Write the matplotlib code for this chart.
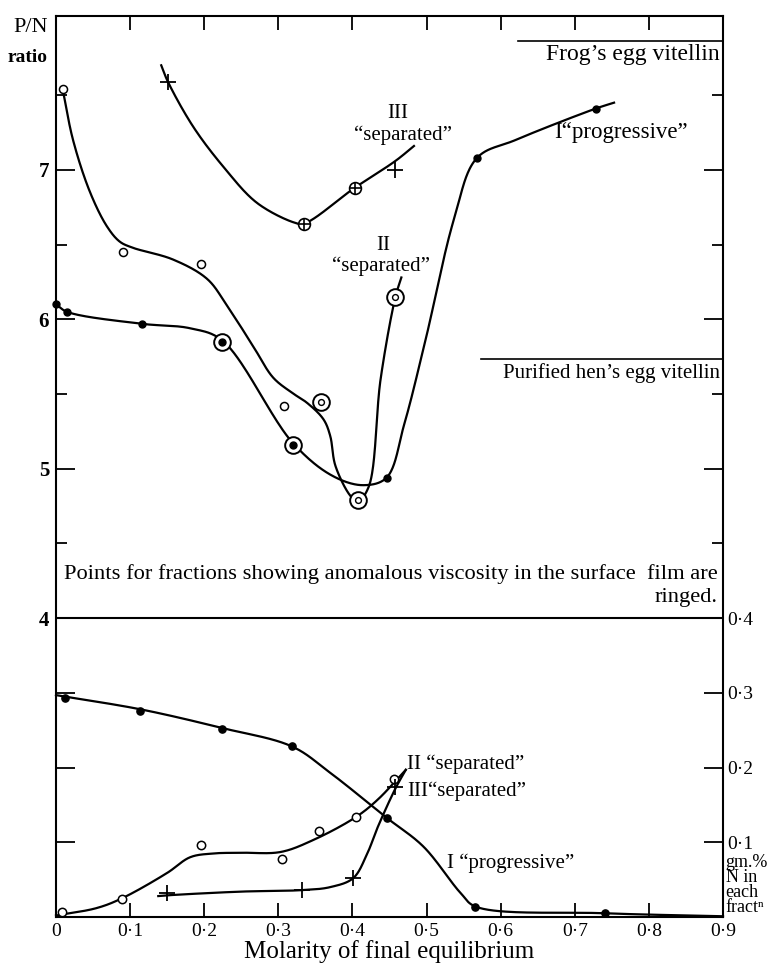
import numpy as np
import matplotlib
matplotlib.use("Agg")
import matplotlib.pyplot as plt
import matplotlib.transforms as mtransforms

plt.rcParams['font.family'] = ['Liberation Serif', 'DejaVu Serif']

# ---------------- data: upper panel (P/N ratio) ----------------
I_x = [0.0, 0.015, 0.116, 0.224, 0.320, 0.446, 0.568, 0.728]
I_y = [6.10, 6.05, 5.97, 5.85, 5.16, 4.94, 7.08, 7.41]
I_ringed = [False, False, False, True, True, False, False, False]
I_curve_x = [0.0, 0.015, 0.116, 0.181, 0.224, 0.320, 0.374, 0.415, 0.446, 0.47, 0.499, 0.537, 0.568, 0.62, 0.728, 0.753]
I_curve_y = [6.10, 6.05, 5.97, 5.94, 5.86, 5.17, 4.95, 4.89, 4.94, 5.30, 5.87, 6.67, 7.08, 7.20, 7.41, 7.45]

II_x = [0.009, 0.091, 0.196, 0.307, 0.358, 0.407, 0.458]
II_y = [7.54, 6.45, 6.37, 5.42, 5.45, 4.79, 6.15]
II_ringed = [False, False, False, False, True, True, True]
II_curve_x = [0.009, 0.023, 0.046, 0.069, 0.086, 0.103, 0.158, 0.204, 0.231, 0.266, 0.293, 0.318, 0.339,
              0.361, 0.370, 0.377, 0.397, 0.407, 0.422, 0.438, 0.458, 0.466]
II_curve_y = [7.54, 7.20, 6.85, 6.62, 6.52, 6.48, 6.40, 6.27, 6.09, 5.82, 5.61, 5.51, 5.44,
              5.33, 5.22, 5.02, 4.82, 4.78, 4.88, 5.60, 6.15, 6.28]

III_x = [0.151, 0.334, 0.403, 0.458]
III_y = [7.59, 6.64, 6.88, 7.00]
III_circled = [False, True, True, False]
III_curve_x = [0.142, 0.151, 0.185, 0.226, 0.271, 0.320, 0.334, 0.403, 0.458, 0.483]
III_curve_y = [7.70, 7.59, 7.29, 7.02, 6.78, 6.65, 6.64, 6.88, 7.06, 7.16]

# ---------------- data: lower panel (gm.% N in each fraction) ----------------
Ilow_x = [0.012, 0.114, 0.224, 0.319, 0.446, 0.566, 0.741]
Ilow_r = [0.293, 0.276, 0.251, 0.229, 0.133, 0.013, 0.005]
Ilow_curve_x = [0.0, 0.012, 0.114, 0.224, 0.319, 0.370, 0.446, 0.496, 0.546, 0.566, 0.741, 0.9]
Ilow_curve_r = [0.297, 0.295, 0.278, 0.253, 0.228, 0.193, 0.133, 0.094, 0.032, 0.014, 0.005, 0.001]

IIlow_x = [0.008, 0.089, 0.195, 0.305, 0.355, 0.405, 0.456]
IIlow_r = [0.007, 0.024, 0.097, 0.078, 0.115, 0.134, 0.185]
IIlow_curve_x = [0.0, 0.055, 0.089, 0.150, 0.181, 0.212, 0.250, 0.303, 0.347, 0.405, 0.434, 0.472]
IIlow_curve_r = [0.002, 0.012, 0.025, 0.059, 0.080, 0.085, 0.086, 0.087, 0.103, 0.134, 0.157, 0.197]

IIIlow_x = [0.150, 0.332, 0.401, 0.458]
IIIlow_r = [0.032, 0.036, 0.052, 0.174]
IIIlow_curve_x = [0.138, 0.150, 0.250, 0.332, 0.370, 0.401, 0.420, 0.434, 0.458, 0.472]
IIIlow_curve_r = [0.028, 0.029, 0.034, 0.036, 0.040, 0.052, 0.085, 0.120, 0.172, 0.197]

x_ticks = [0, 0.1, 0.2, 0.3, 0.4, 0.5, 0.6, 0.7, 0.8, 0.9]
x_ticklabels = ['0', '0\u00b71', '0\u00b72', '0\u00b73', '0\u00b74', '0\u00b75', '0\u00b76', '0\u00b77', '0\u00b78', '0\u00b79']
left_ticks = [4, 5, 6, 7]
right_ticks = [0.1, 0.2, 0.3, 0.4]
right_ticklabels = ['0\u00b71', '0\u00b72', '0\u00b73', '0\u00b74']


def smooth(xs, ys, sx, sy, n=40):
    """centripetal Catmull-Rom through the hand-drawn curve knots"""
    P = np.column_stack([np.asarray(xs, float) * sx, np.asarray(ys, float) * sy])
    P = np.vstack([2 * P[0] - P[1], P, 2 * P[-1] - P[-2]])
    out = []
    for i in range(1, len(P) - 2):
        p0, p1, p2, p3 = P[i - 1], P[i], P[i + 1], P[i + 2]
        t0 = 0.0
        t1 = t0 + max(np.linalg.norm(p1 - p0), 1e-9) ** 0.5
        t2 = t1 + max(np.linalg.norm(p2 - p1), 1e-9) ** 0.5
        t3 = t2 + max(np.linalg.norm(p3 - p2), 1e-9) ** 0.5
        t = np.linspace(t1, t2, n)[:, None]
        A1 = (t1 - t) / (t1 - t0) * p0 + (t - t0) / (t1 - t0) * p1
        A2 = (t2 - t) / (t2 - t1) * p1 + (t - t1) / (t2 - t1) * p2
        A3 = (t3 - t) / (t3 - t2) * p2 + (t - t2) / (t3 - t2) * p3
        B1 = (t2 - t) / (t2 - t0) * A1 + (t - t0) / (t2 - t0) * A2
        B2 = (t3 - t) / (t3 - t1) * A2 + (t - t1) / (t3 - t1) * A3
        C = (t2 - t) / (t2 - t1) * B1 + (t - t1) / (t2 - t1) * B2
        out.append(C)
    C = np.vstack(out)
    return C[:, 0] / sx, C[:, 1] / sy


fig = plt.figure(figsize=(7.73, 9.67), dpi=100)
ax = fig.add_axes([56 / 773, 1 - 917 / 967, (723 - 56) / 773, (917 - 16) / 967])
ax2 = ax.twinx()

YLO, YHI = 2.0, 8.03
ax.set_xlim(0, 0.9)
ax.set_ylim(YLO, YHI)
ax2.set_ylim((YLO - 2.0) / 5.0, (YHI - 2.0) / 5.0)

lw = 1.6
k = 'black'
SX, SY, SR = 740, 150, 745

# ---- upper curves ----
for cx, cy in [(I_curve_x, I_curve_y), (II_curve_x, II_curve_y), (III_curve_x, III_curve_y)]:
    xs, ys = smooth(cx, cy, SX, SY)
    ax.plot(xs, ys, color=k, lw=lw, clip_on=False, zorder=2)

# ---- lower curves ----
for cx, cr in [(Ilow_curve_x, Ilow_curve_r), (IIlow_curve_x, IIlow_curve_r), (IIIlow_curve_x, IIIlow_curve_r)]:
    xs, rs = smooth(cx, cr, SX, SR)
    ax2.plot(xs, rs, color=k, lw=lw, clip_on=False, zorder=2)

# ---- markers ----
ring_ms = 12
for x, y, r in zip(I_x, I_y, I_ringed):
    if r:
        ax.plot(x, y, 'o', ms=ring_ms, mfc='white', mec=k, mew=1.4, zorder=3)
    ax.plot(x, y, 'o', ms=5, color=k, zorder=4, clip_on=False)
for x, y, r in zip(II_x, II_y, II_ringed):
    if r:
        ax.plot(x, y, 'o', ms=ring_ms, mfc='white', mec=k, mew=1.4, zorder=3)
        ax.plot(x, y, 'o', ms=4.2, mfc='white', mec=k, mew=1.0, zorder=4)
    else:
        ax.plot(x, y, 'o', ms=5.8, mfc='white', mec=k, mew=1.1, zorder=4)
for x, y, c in zip(III_x, III_y, III_circled):
    if c:
        ax.plot(x, y, 'o', ms=8.5, mfc='white', mec=k, mew=1.2, zorder=3)
        ax.plot(x, y, '+', ms=8.5, color=k, mew=1.2, zorder=4)
    else:
        ax.plot(x, y, '+', ms=11, color=k, mew=1.3, zorder=4)

ax2.plot(Ilow_x, Ilow_r, 'o', ms=5.2, color=k, ls='none', zorder=4)
ax2.plot(IIlow_x, IIlow_r, 'o', ms=6, mfc='white', mec=k, mew=1.1, ls='none', zorder=4)
ax2.plot(IIIlow_x, IIIlow_r, '+', ms=11, color=k, mew=1.3, ls='none', zorder=4)

# ---- dividing line at P/N = 4 (0.4 gm.%) ----
ax.axhline(4.0, color=k, lw=1.5, zorder=2)

# ---- ticks ----
for sp in ax.spines.values():
    sp.set_linewidth(1.5)
for sp in ax2.spines.values():
    sp.set_visible(False)

ax.set_xticks(x_ticks)
ax.set_xticklabels(x_ticklabels, fontsize=14)
ax.tick_params(axis='x', which='major', direction='in', length=10, width=1.3,
               top=True, bottom=True, pad=4)
ax.set_yticks([2.5, 3.0, 3.5] + left_ticks)
ax.set_yticklabels(['', '', ''] + [str(v) for v in left_ticks], fontsize=15, fontweight='bold')
ax.set_yticks([4.5, 5.5, 6.5, 7.5], minor=True)
ax.tick_params(axis='y', which='major', direction='in', length=14, width=1.3,
               left=True, right=True, pad=5)
ax.tick_params(axis='y', which='minor', direction='in', length=8, width=1.3,
               left=True, right=True)

ax2.set_yticks(right_ticks)
ax2.set_yticklabels(right_ticklabels, fontsize=14)
ax2.tick_params(axis='y', length=0, pad=3)
bt = mtransforms.blended_transform_factory(ax2.transAxes, ax2.transData)
ax2.text(1.004, 0.084, 'gm.%\nN in\neach\nfract\u207f', transform=bt, ha='left', va='top',
         fontsize=13, linespacing=0.85, clip_on=False)

ax.set_xlabel('Molarity of final equilibrium', fontsize=18, labelpad=0)

# ---- axis title ----
fig.text(31 / 773, 1 - 28 / 967, 'P/N', fontsize=16, ha='center', va='center')
fig.text(28 / 773, 1 - 57 / 967, 'ratio', fontsize=14, fontweight='bold', ha='center', va='center')

# ---- annotations upper ----
ax.plot([0.623, 0.9], [7.86, 7.86], color=k, lw=1.2)
ax.text(0.896, 7.77, 'Frog\u2019s egg vitellin', fontsize=17, ha='right', va='center')
ax.plot([0.573, 0.9], [5.737, 5.737], color=k, lw=1.2)
ax.text(0.896, 5.64, 'Purified hen\u2019s egg vitellin', fontsize=15, ha='right', va='center')

ax.text(0.461, 7.375, 'III', fontsize=15, ha='center', va='center')
ax.text(0.468, 7.235, '\u201cseparated\u201d', fontsize=15, ha='center', va='center')
ax.text(0.441, 6.495, 'II', fontsize=15, ha='center', va='center')
ax.text(0.438, 6.355, '\u201cseparated\u201d', fontsize=15, ha='center', va='center')
ax.text(0.762, 7.25, 'I\u201cprogressive\u201d', fontsize=16.5, ha='center', va='center')

ax.text(0.893, 4.295, 'Points for fractions showing anomalous viscosity in the surface  film are',
        fontsize=16.2, ha='right', va='center')
ax.text(0.893, 4.14, 'ringed.', fontsize=16.2, ha='right', va='center')

# ---- annotations lower ----
ax2.text(0.474, 0.204, 'II \u201cseparated\u201d', fontsize=15, ha='left', va='center')
ax2.text(0.474, 0.168, 'III\u201cseparated\u201d', fontsize=15, ha='left', va='center')
ax2.text(0.528, 0.0725, 'I \u201cprogressive\u201d', fontsize=15, ha='left', va='center')

fig.savefig('out.png', dpi=100, facecolor='white')
